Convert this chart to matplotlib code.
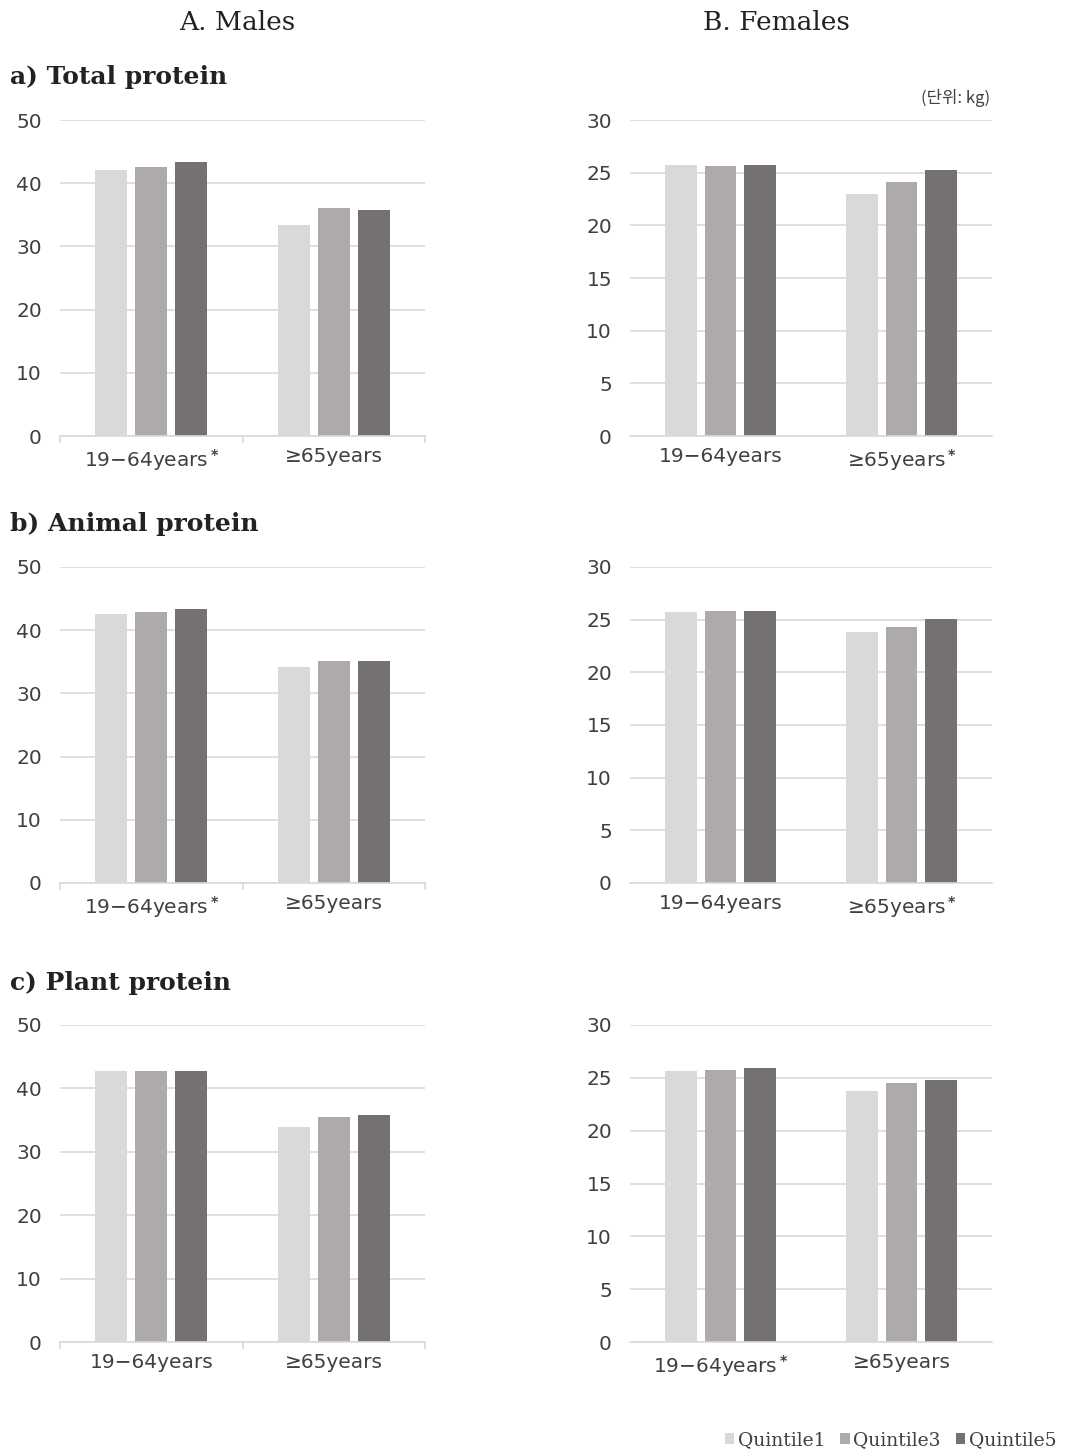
import matplotlib
matplotlib.use("Agg")
import matplotlib.pyplot as plt
from matplotlib.patches import Patch
import numpy as np

# ---- data (kg) ----
age_groups = ["19\u221264years", "\u226565years"]
quintiles = ["Quintile1", "Quintile3", "Quintile5"]

male_total = [[42.1, 42.6, 43.4], [33.4, 36.0, 35.8]]
male_animal = [[42.6, 42.9, 43.4], [34.1, 35.1, 35.1]]
male_plant = [[42.7, 42.7, 42.7], [33.9, 35.5, 35.8]]

female_total = [[25.7, 25.6, 25.7], [23.0, 24.1, 25.3]]
female_animal = [[25.7, 25.8, 25.8], [23.8, 24.3, 25.1]]
female_plant = [[25.6, 25.7, 25.9], [23.8, 24.5, 24.8]]

# which tick label carries the significance asterisk (index of age group)
male_star = [0, 0, None]
female_star = [1, 1, 0]

panel_titles = ["a) Total protein", "b) Animal protein", "c) Plant protein"]

colors = ["#D9D9D9", "#AEAAAA", "#767171"]
grid_c = "#D9D9D9"
text_c = "#404040"

W, H = 1070, 1452
fig = plt.figure(figsize=(W / 100, H / 100), dpi=100)


def fx(px):
    return px / W


def fy(py):
    return 1 - py / H


def draw(ax, data, star, ymax, step, male):
    x = np.arange(len(age_groups))
    w = 0.175
    for i, q in enumerate(quintiles):
        vals = [data[g][i] for g in range(len(age_groups))]
        ax.bar(x + (i - 1) * 0.22, vals, w, color=colors[i], zorder=2)
    ax.set_xlim(-0.5, 1.5)
    ax.set_ylim(0, ymax)
    ax.set_yticks(np.arange(0, ymax + 0.1, step))
    ax.yaxis.grid(True, color=grid_c, lw=1.2, zorder=0)
    ax.set_axisbelow(True)
    for s in ["top", "right", "left"]:
        ax.spines[s].set_visible(False)
    ax.spines["bottom"].set_color(grid_c)
    ax.spines["bottom"].set_linewidth(1.2)
    labels = [lab + (r"$^{\bf *}$" if star == k else "") for k, lab in enumerate(age_groups)]
    ax.set_xticks(x)
    ax.set_xticklabels(labels)
    ax.tick_params(axis="y", length=0, pad=13, labelsize=14.5, labelcolor=text_c)
    ax.tick_params(axis="x", length=0, pad=8, labelsize=14.5, labelcolor=text_c)
    if male:
        ax.set_xticks([-0.5, 0.5, 1.5], minor=True)
        ax.tick_params(axis="x", which="minor", length=5, color=grid_c, width=1.2)


male_data = [male_total, male_animal, male_plant]
female_data = [female_total, female_animal, female_plant]
tops = [120, 567, 1025]
bottoms = [436, 883, 1342]
title_y = [77, 524, 983]

for r in range(3):
    h = (bottoms[r] - tops[r]) / H
    axm = fig.add_axes([fx(60), fy(bottoms[r]), fx(365), h])
    draw(axm, male_data[r], male_star[r], 50, 10, True)
    axf = fig.add_axes([fx(630), fy(bottoms[r]), fx(362), h])
    draw(axf, female_data[r], female_star[r], 30, 5, False)
    fig.text(fx(10), fy(title_y[r]), panel_titles[r], family="DejaVu Serif",
             fontweight="bold", fontsize=18, va="center", ha="left", color="#222222")

fig.text(fx(237), fy(22), "A. Males", family="DejaVu Serif", fontsize=19,
         ha="center", va="center", color="#222222")
fig.text(fx(776), fy(22), "B. Females", family="DejaVu Serif", fontsize=19,
         ha="center", va="center", color="#222222")
fig.text(fx(990), fy(98), "(단위: kg)", family=["Noto Sans CJK KR", "DejaVu Sans"],
         fontsize=12, ha="right", va="center", color="#404040")

handles = [Patch(facecolor=c, edgecolor="none") for c in colors]
fig.legend(handles, quintiles, loc="center right", bbox_to_anchor=(fx(1068), fy(1440)),
           ncol=3, frameon=False, handlelength=0.5, handleheight=0.5, handletextpad=0.2,
           columnspacing=0.8, borderpad=0.1, prop={"family": "DejaVu Serif", "size": 13.5},
           labelcolor="#404040")

fig.savefig("out.png", dpi=100)
